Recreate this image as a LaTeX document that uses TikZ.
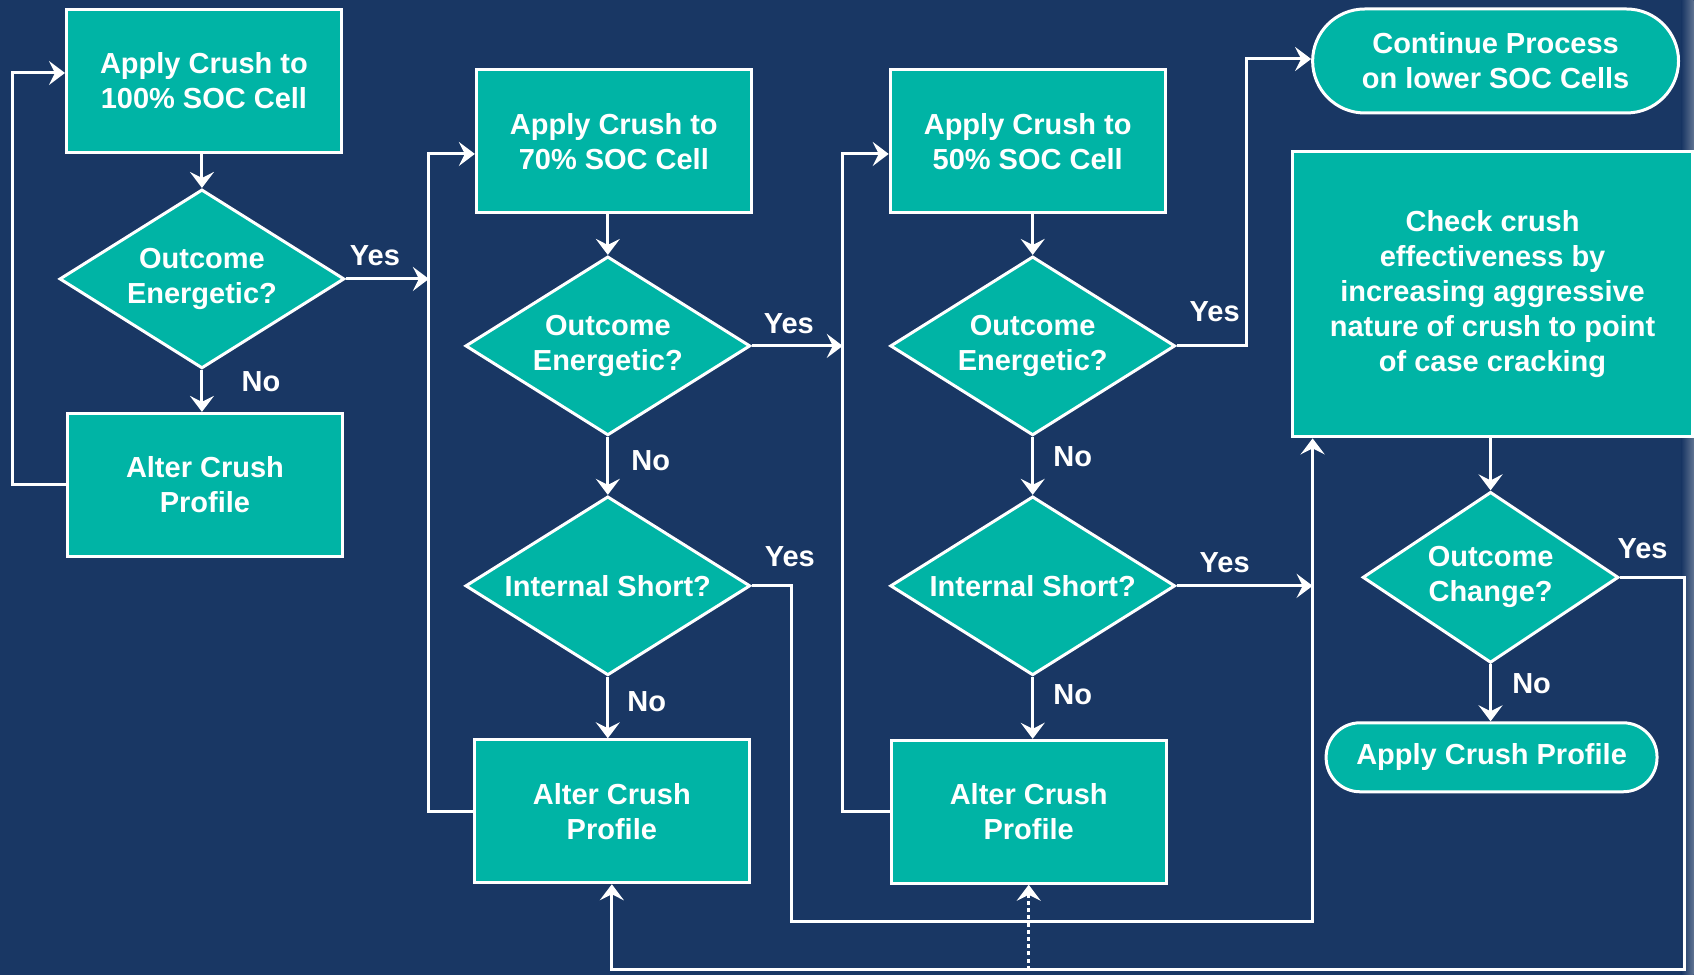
\documentclass[tikz,border=0pt]{standalone}
\usepackage{fontspec}
\setmainfont{Liberation Sans}
\usepackage{tikz}
\usetikzlibrary{shapes.geometric}
\usetikzlibrary{arrows.meta}

\definecolor{bgblue}{RGB}{25,55,100}
\definecolor{edgeblue}{RGB}{95,115,145}
\definecolor{boxfill}{RGB}{0,180,165}

\tikzset{
  box/.style={rectangle, draw=white, line width=1.5pt, fill=boxfill, text=white,
    align=center, font=\bfseries\fontsize{14.5}{17.5}\selectfont,
    minimum width=137.5pt, minimum height=71.5pt, inner sep=2pt},
  ask/.style={box, diamond, aspect=1.6, minimum width=142.5pt, minimum height=89.5pt, inner sep=0pt},
  endcap/.style={box, rounded corners=26pt, minimum width=183pt, minimum height=52pt},
  flow/.style={draw=white, line width=1.5pt, -{Stealth[length=8pt,width=12pt,inset=3pt]}},
  lbl/.style={text=white, font=\bfseries\fontsize{14.5}{17.5}\selectfont, inner sep=0pt}
}

\begin{document}
\begin{tikzpicture}[x=0.5pt,y=-0.5pt]
\fill[bgblue] (0,0) rectangle (1694,975);
\shade[left color=bgblue, right color=edgeblue] (1682,0) rectangle (1694,975);

% first column: 100% SOC
\node[box] (b100) at (204,81) {Apply Crush to\\100\% SOC Cell};
\node[ask] (d1) at (202,279) {Outcome\\Energetic?};
\node[box] (a1) at (205,485) {Alter Crush\\Profile};

% second column: 70% SOC
\node[box] (b70) at (614,141.5) {Apply Crush to\\70\% SOC Cell};
\node[ask] (d2) at (608,346) {Outcome\\Energetic?};
\node[ask] (d3) at (608,586) {Internal Short?};
\node[box] (a2) at (612,811.5) {Alter Crush\\Profile};

% third column: 50% SOC
\node[box] (b50) at (1028,141.5) {Apply Crush to\\50\% SOC Cell};
\node[ask] (d4) at (1033,346) {Outcome\\Energetic?};
\node[ask] (d5) at (1033,586) {Internal Short?};
\node[box] (a3) at (1029,812) {Alter Crush\\Profile};

% last column
\node[endcap] (cont) at (1496,61) {Continue Process\\on lower SOC Cells};
\node[box, minimum width=200pt, minimum height=142.5pt] (chk) at (1493,294.5)
  {Check crush\\effectiveness by\\increasing aggressive\\nature of crush to point\\of case cracking};
\node[ask, minimum width=128pt, minimum height=85.5pt] (d6) at (1491,577.5) {Outcome\\Change?};
\node[endcap, rounded corners=17pt, minimum width=165.5pt, minimum height=34.5pt] (apply) at (1492,757.5) {Apply Crush Profile};

% corners of the loops
\coordinate (k1) at (13,73);
\coordinate (k2) at (429,154);
\coordinate (k3) at (843,154);
\coordinate (k4) at (792,922);
\coordinate (k5) at (1313,922);
\coordinate (k6) at (1247,59);
\coordinate (k7) at (1685,970);

\draw[flow] (d1.north |- b100.south) -- (d1.north);
\draw[flow] (d1.south) -- (d1.south |- a1.north);
\draw[flow] (a1.west) -| (k1) -- (k1 -| b100.west);
\draw[flow] (d1.east) -- (d1.east -| k2);

\draw[flow] (d2.north |- b70.south) -- (d2.north);
\draw[flow] (d2.south) -- (d3.north);
\draw[flow] (d3.south) -- (d3.south |- a2.north);
\draw[flow] (a2.west) -| (k2) -- (k2 -| b70.west);
\draw[flow] (d2.east) -- (d2.east -| k3);
\draw[flow] (d3.east) -| (k4) -- (k5) -- (k5 |- chk.south);

\draw[flow] (d4.north |- b50.south) -- (d4.north);
\draw[flow] (d4.south) -- (d5.north);
\draw[flow] (d5.south) -- (d5.south |- a3.north);
\draw[flow] (a3.west) -| (k3) -- (k3 -| b50.west);
\draw[flow] (d4.east) -| (k6) -- (k6 -| cont.west);
\draw[flow] (d5.east) -- (d5.east -| k5);

\draw[flow] (chk.south -| d6.north) -- (d6.north);
\draw[flow] (d6.south) -- (d6.south |- apply.north);
\draw[flow] (d6.east) -| (k7) -- (k7 -| a2.south) -- (a2.south);
\draw[flow, dash pattern=on 2pt off 1.6pt] (k7 -| a3.south) -- (a3.south);

% branch labels
\node[lbl] (yes1) at (375,256) {Yes};
\node[lbl] (no1) at (261,382) {No};
\node[lbl] (yes2) at (789,324) {Yes};
\node[lbl] (no2) at (651,461) {No};
\node[lbl] (yes3) at (790,557) {Yes};
\node[lbl] (no3) at (647,702) {No};
\node[lbl] (yes4) at (1215,312) {Yes};
\node[lbl] (no4) at (1073,457) {No};
\node[lbl] (yes5) at (1225,563) {Yes};
\node[lbl] (no5) at (1073,695) {No};
\node[lbl] (yes6) at (1643,549) {Yes};
\node[lbl] (no6) at (1532,684) {No};
\end{tikzpicture}
\end{document}
